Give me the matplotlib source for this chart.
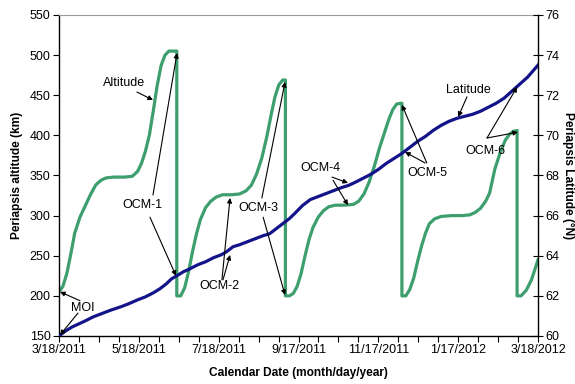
import matplotlib
matplotlib.use("Agg")
import matplotlib.pyplot as plt

plt.rcParams['font.family'] = ['Liberation Sans', 'DejaVu Sans']

# Days since Mars orbit insertion (3/18/2011) and periapsis altitude (km)
alt_day = [0, 3, 6, 9, 12, 16, 20, 24, 28, 32, 36, 42, 50, 56, 60, 63, 66, 69, 72, 75,
           78, 81, 84, 89, 90, 90,
           93, 96, 99, 102, 105, 108, 112, 116, 120, 125, 132, 138, 143, 147, 151, 155,
           159, 162, 165, 168, 171, 173, 173,
           176, 179, 182, 185, 188, 191, 194, 198, 202, 206, 211, 218, 225, 229, 233,
           237, 241, 245, 249, 252, 255, 258, 261, 262, 262,
           265, 268, 271, 274, 277, 280, 283, 287, 292, 300, 308, 314, 318, 322, 326,
           329, 333, 337, 341, 344, 347, 350, 350,
           353, 357, 361, 364, 366]
alt_km = [205, 212, 228, 252, 278, 298, 312, 326, 338, 344, 347, 348, 348, 349, 355, 365,
          380, 400, 430, 462, 487, 500, 505, 505, 505, 200,
          200, 210, 230, 255, 277, 295, 310, 318, 323, 326, 326, 327, 331, 338, 352, 372,
          400, 425, 448, 463, 469, 469, 200,
          200, 203, 212, 228, 250, 270, 285, 298, 306, 311, 313, 313, 314, 318, 327,
          342, 362, 385, 405, 420, 432, 439, 440, 440, 200,
          200, 208, 222, 243, 262, 278, 290, 296, 299, 300, 300, 301, 304, 309, 318,
          328, 358, 378, 394, 401, 405, 406, 200,
          200, 207, 220, 235, 245]

# Periapsis latitude (deg N)
lat_day = [0, 5, 10, 15, 20, 26, 32, 40, 47, 53, 60, 66, 72, 77, 82, 86, 90, 95, 100,
           106, 112, 118, 124, 128, 131, 133, 138, 144, 150, 156, 161, 166, 171, 176,
           180, 186, 192, 198, 204, 210, 216, 221, 226, 232, 238, 244, 250, 256, 262,
           268, 274, 280, 286, 292, 298, 304, 310, 316, 322, 328, 334, 340, 346, 352,
           358, 362, 366]
lat_deg = [60.0, 60.25, 60.45, 60.6, 60.75, 60.95, 61.1, 61.3, 61.45, 61.6, 61.8, 61.95,
           62.15, 62.35, 62.6, 62.85, 63.0, 63.2, 63.35, 63.55, 63.7, 63.9, 64.05, 64.2,
           64.35, 64.45, 64.55, 64.7, 64.85, 65.0, 65.1, 65.35, 65.6, 65.85, 66.1, 66.5,
           66.8, 66.95, 67.1, 67.25, 67.4, 67.5, 67.65, 67.85, 68.05, 68.3, 68.6, 68.85,
           69.1, 69.4, 69.7, 69.95, 70.25, 70.5, 70.7, 70.85, 70.95, 71.05, 71.2, 71.4,
           71.6, 71.85, 72.2, 72.55, 72.9, 73.2, 73.5]

date_ticks = [0, 61, 122, 183, 244, 305, 366]
date_labels = ['3/18/2011', '5/18/2011', '7/18/2011', '9/17/2011',
               '11/17/2011', '1/17/2012', '3/18/2012']

GREEN = '#3d9e6e'
NAVY = '#14148a'

fig = plt.figure(figsize=(5.75, 3.84), dpi=100)
ax = fig.add_axes([0.1026, 0.125, 0.8331, 0.836])
ax2 = ax.twinx()

ax.plot(alt_day, alt_km, color=GREEN, lw=2.3, solid_joinstyle='round', zorder=2)
ax2.plot(lat_day, lat_deg, color=NAVY, lw=2.3, solid_joinstyle='round', zorder=2)

ax.set_xlim(0, 366)
ax.set_ylim(150, 550)
ax2.set_ylim(60, 76)
ax.set_yticks(range(150, 551, 50))
ax2.set_yticks(range(60, 77, 2))
ax.set_xticks(date_ticks)
ax.set_xticklabels(date_labels)
ax.set_xticks([i * 15.25 for i in range(25)], minor=True)

ax.tick_params(axis='x', which='both', direction='out', length=4, width=0.8,
               labelsize=9, pad=2)
ax.tick_params(axis='y', direction='out', length=4, width=0.8, labelsize=9, pad=2)
ax2.tick_params(axis='y', direction='inout', length=7, width=0.8, labelsize=9, pad=2)

ax.spines['top'].set_color('#9a9a9a')
ax.spines['top'].set_linewidth(0.8)
ax.spines['right'].set_visible(False)
for s in ['left', 'bottom']:
    ax.spines[s].set_linewidth(1.0)
for s in ['top', 'left', 'bottom']:
    ax2.spines[s].set_visible(False)
ax2.spines['right'].set_linewidth(1.0)

ax.set_ylabel('Periapsis altitude (km)', fontsize=8.6, fontweight='bold', labelpad=5)
ax2.set_ylabel('Periapsis Latitude (°N)', fontsize=8.6, fontweight='bold',
               rotation=270, va='center')
ax2.yaxis.set_label_coords(1.063, 0.5)
ax.set_xlabel('Calendar Date (month/day/year)', fontsize=8.6, fontweight='bold',
              labelpad=8)

# Labels and leader arrows
labels = [
    ('Altitude', 49.5, 465),
    ('OCM-1', 64, 313),
    ('MOI', 18, 185),
    ('OCM-2', 122.6, 212),
    ('OCM-3', 152, 309),
    ('OCM-4', 200, 359),
    ('OCM-5', 281.6, 353),
    ('OCM-6', 326, 380.5),
    ('Latitude', 313, 456.5),
]
for txt, x, y in labels:
    ax2.text(x, y, txt, transform=ax.transData, fontsize=9, ha='center', va='center',
             zorder=5)

arrow_kw = dict(arrowstyle='-|>', color='black', lw=0.8, mutation_scale=7,
                shrinkA=0, shrinkB=0)

# (start day, start km, end day, end value, end on latitude axis?)
arrows = [
    (59.6, 454, 71.8, 444, False),
    (71.8, 325.7, 90.2, 502.6, False),
    (69.5, 298, 89.4, 63.0, True),
    (16, 194, 0.8, 205, False),
    (14.5, 178.6, 0.8, 60.05, True),
    (124.5, 220, 130.7, 322, False),
    (125.3, 220, 130.7, 64.04, True),
    (155, 322, 172.7, 466.5, False),
    (156, 298, 172.7, 201, False),
    (208.6, 348, 220.8, 67.63, True),
    (209.4, 344, 220.8, 313, False),
    (281, 365.6, 262, 438, False),
    (279.7, 365.6, 264.4, 69.17, True),
    (327, 396.7, 350, 72.41, True),
    (327, 396.7, 350.7, 404, False),
    (311.7, 448, 305, 70.92, True),
]
for sx, sy, ex, ey, on_lat in arrows:
    target = ax2.transData if on_lat else ax.transData
    ax2.annotate('', xy=(ex, ey), xycoords=target, xytext=(sx, sy),
                 textcoords=ax.transData, arrowprops=arrow_kw, zorder=6)

fig.savefig('out.png', dpi=100)
